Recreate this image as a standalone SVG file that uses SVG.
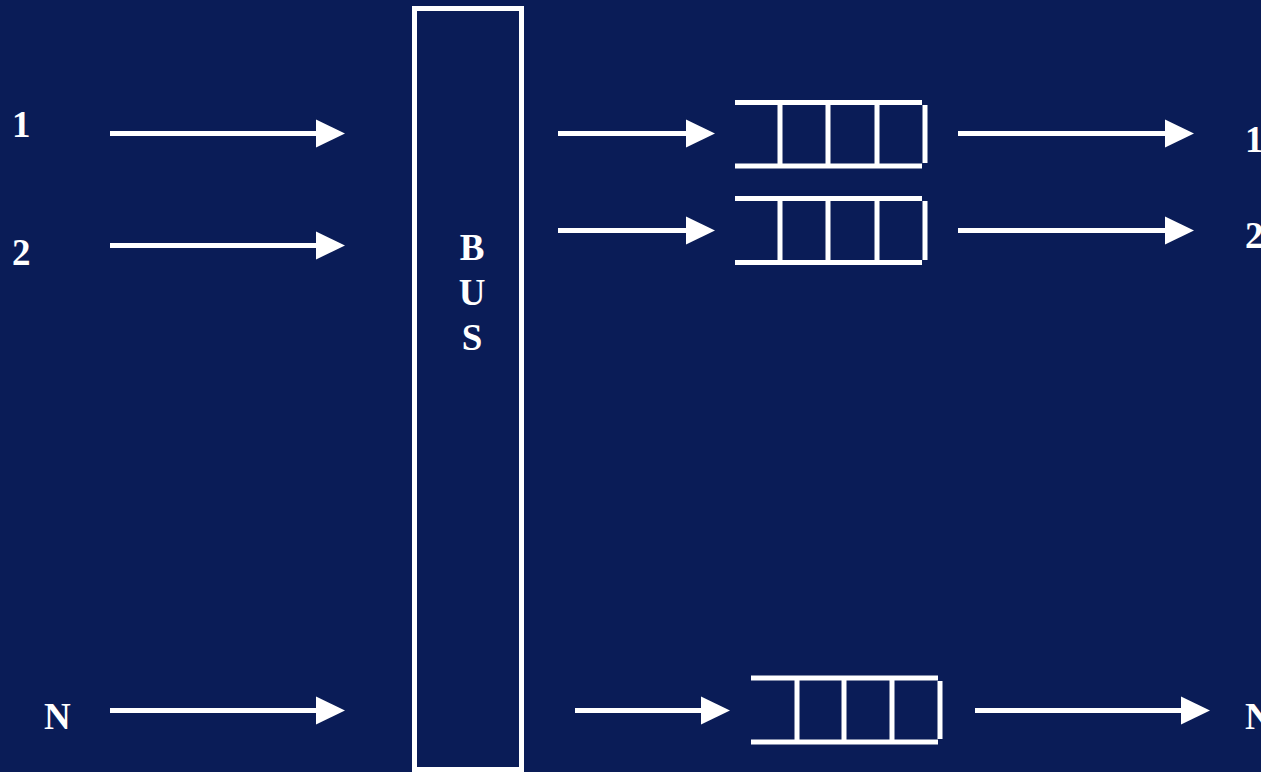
<svg xmlns="http://www.w3.org/2000/svg" width="1261" height="772" viewBox="0 0 1261 772">
<defs>
<style>
.ln{stroke:#fff;stroke-width:5;fill:none}
.lbl{font-family:"Liberation Serif","Times New Roman",serif;font-weight:bold;font-size:37px;fill:#fff}
</style>
<marker id="ah" markerUnits="userSpaceOnUse" markerWidth="29" markerHeight="28" refX="0" refY="14" orient="auto" overflow="visible">
<path d="M0,0 L29,14 L0,28 Z" fill="#fff"/>
</marker>
</defs>
<rect x="0" y="0" width="1261" height="772" fill="#0a1c57"/>
<g id="labels-in">
<text class="lbl" x="12" y="137">1</text>
<text class="lbl" x="12" y="265">2</text>
<text class="lbl" x="44" y="729">N</text>
</g>
<g id="bus">
<rect class="ln" x="414.5" y="8.5" width="107" height="761"/>
<text class="lbl" x="472" y="260" text-anchor="middle">B</text>
<text class="lbl" x="472" y="305" text-anchor="middle">U</text>
<text class="lbl" x="472" y="350" text-anchor="middle">S</text>
</g>
<g id="queue1">
<path class="ln" d="M735,102.5 H922 M735,166 H922 M780,102.5 V166 M828,102.5 V166 M877,102.5 V166 M925,105 V163"/>
</g>
<g id="queue2">
<path class="ln" d="M735,198.5 H922 M735,262.5 H922 M780,198.5 V262.5 M828,198.5 V262.5 M877,198.5 V262.5 M925,201 V260"/>
</g>
<g id="queueN">
<path class="ln" d="M751,678 H938 M751,742 H938 M797,678 V742 M844,678 V742 M892,678 V742 M940,681 V739"/>
</g>
<g id="labels-out">
<text class="lbl" x="1245" y="152">1</text>
<text class="lbl" x="1245" y="248">2</text>
<text class="lbl" x="1245" y="729">N</text>
</g>
<g id="connectors">
<line class="ln" x1="110" y1="133.5" x2="316" y2="133.5" marker-end="url(#ah)"/>
<line class="ln" x1="110" y1="245.5" x2="316" y2="245.5" marker-end="url(#ah)"/>
<line class="ln" x1="110" y1="710.5" x2="316" y2="710.5" marker-end="url(#ah)"/>
<line class="ln" x1="558" y1="133.5" x2="686" y2="133.5" marker-end="url(#ah)"/>
<line class="ln" x1="558" y1="230.5" x2="686" y2="230.5" marker-end="url(#ah)"/>
<line class="ln" x1="575" y1="710.5" x2="701" y2="710.5" marker-end="url(#ah)"/>
<line class="ln" x1="958" y1="133.5" x2="1165" y2="133.5" marker-end="url(#ah)"/>
<line class="ln" x1="958" y1="230.5" x2="1165" y2="230.5" marker-end="url(#ah)"/>
<line class="ln" x1="975" y1="710.5" x2="1181" y2="710.5" marker-end="url(#ah)"/>
</g>
</svg>
